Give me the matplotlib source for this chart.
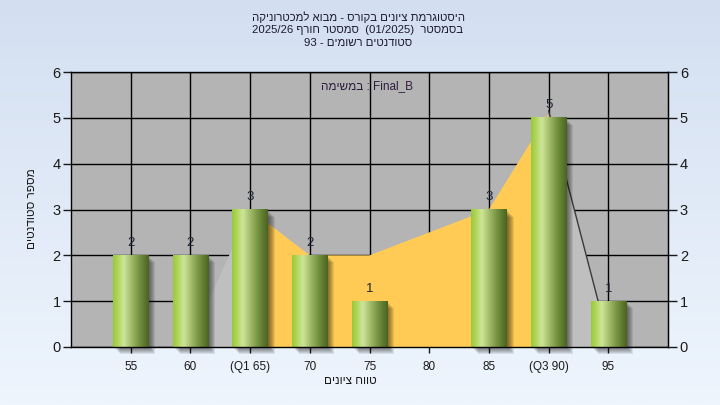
import numpy as np
import matplotlib
matplotlib.use('Agg')
import matplotlib.pyplot as plt
from matplotlib.patches import Rectangle, Polygon
from matplotlib.transforms import ScaledTranslation
from matplotlib.colors import LinearSegmentedColormap

plt.rcParams['font.family'] = ['Liberation Sans', 'DejaVu Sans']

# ---------------- data ----------------
categories = ['55', '60', '(Q1 65)', '70', '75', '80', '85', '(Q3 90)', '95']
counts = [2, 2, 3, 2, 1, 0, 3, 5, 1]
# quartile band (yellow area between Q1 and Q3)
band_idx = [2, 3, 4, 5, 6, 7]
band_vals = [3, 2, 2, 2.5, 3, 5.1]
# tails outside quartiles (light grey)
left_tail_idx = [1, 2]
left_tail_vals = [0.15, 3]
right_tail_idx = [7, 8]
right_tail_vals = [5.15, 0.15]
yticks = [0, 1, 2, 3, 4, 5, 6]

# visual-order (RTL already applied) texts
title_lines = ['הקינורטכמל אובמ - סרוקב םינויצ תמרגוטסיה',
               '2025/26 ףרוח רטסמס  (01/2025)  רטסמסב',
               '93 - םימושר םיטנדוטס']
legend_text = 'המישמב : Final_B'
xlabel = 'םינויצ חווט'
ylabel = 'םיטנדוטס רפסמ'

# ---------------- figure ----------------
W, H = 720, 405
fig = plt.figure(figsize=(W / 100, H / 100), dpi=100)

bg = fig.add_axes([0, 0, 1, 1], zorder=-10)
grad = np.linspace(0, 1, 256).reshape(-1, 1)
bg_cmap = LinearSegmentedColormap.from_list('bg', ['#d3dff1', '#eef5fd'])
bg.imshow(grad, aspect='auto', cmap=bg_cmap, extent=(0, 1, 0, 1))
bg.axis('off')

ax = fig.add_axes([71 / W, 58 / H, 597 / W, 275 / H])
ax.set_facecolor('#b4b4b4')
x = np.arange(len(categories))

# grid
ax.set_axisbelow(True)
ax.grid(True, color='black', linewidth=1, zorder=0.5)

# areas
band = Polygon(list(zip(band_idx, band_vals)) + [(band_idx[-1], 0), (band_idx[0], 0)],
               closed=True, facecolor='#ffcb55', edgecolor='none', zorder=1)
ax.add_patch(band)
lt = Polygon(list(zip(left_tail_idx, left_tail_vals)) + [(left_tail_idx[-1], 0), (left_tail_idx[0], 0)],
             closed=True, facecolor='#bfbfbf', edgecolor='none', zorder=1)
ax.add_patch(lt)
rt = Polygon(list(zip(right_tail_idx, right_tail_vals)) + [(right_tail_idx[-1], 0), (right_tail_idx[0], 0)],
             closed=True, facecolor='#bfbfbf', edgecolor='none', zorder=1)
ax.add_patch(rt)
ax.plot(right_tail_idx, right_tail_vals, color='#3a3a3a', linewidth=1, zorder=1.5)

# bars
bars = ax.bar(x, counts, width=0.59, color='none', edgecolor='none', zorder=3)
bar_cmap = LinearSegmentedColormap.from_list('bar', [
    (0.0, '#98c93a'), (0.12, '#aed455'), (0.3, '#cde59a'),
    (0.5, '#a4bd6c'), (0.75, '#718e3d'), (1.0, '#4b6320')])
hgrad = np.linspace(0, 1, 128).reshape(1, -1)
for b in bars:
    h = b.get_height()
    if h <= 0:
        continue
    x0, w = b.get_x(), b.get_width()
    # shadow
    for k in range(1, 8):
        off = ScaledTranslation(k / 100, -k / 100, fig.dpi_scale_trans)
        sh = Rectangle((x0, 0), w, h, transform=ax.transData + off,
                       facecolor='black', edgecolor='none', alpha=0.085,
                       zorder=2, clip_on=False)
        ax.add_patch(sh)
    ax.imshow(hgrad, extent=(x0, x0 + w, 0, h), aspect='auto', cmap=bar_cmap,
              zorder=3, interpolation='bilinear')
    ax.text(b.get_x() + w / 2, h + 0.27, str(int(h)), ha='center', va='center',
            fontsize=9.5, color='#1c2436', zorder=5)

ax.set_xlim(-1, 9)
ax.set_ylim(0, 6)
ax.set_xticks(x)
ax.set_xticklabels(categories)
ax.set_yticks(yticks)
ax.tick_params(axis='x', direction='out', length=4, width=1, pad=6,
               labelsize=8.5, colors='#1a1a1a')
ax.tick_params(axis='y', direction='out', length=5.5, width=1, pad=2,
               labelsize=10.5, colors='#1a1a1a')
for s in ax.spines.values():
    s.set_color('black')
    s.set_linewidth(1)
    s.set_zorder(6)

ax2 = ax.twinx()
ax2.set_ylim(0, 6)
ax2.set_yticks(yticks)
ax2.tick_params(axis='y', direction='out', length=6.5, width=1, pad=2,
                labelsize=10.5, colors='#1a1a1a')
for s in ax2.spines.values():
    s.set_visible(False)
ax2.spines['right'].set_visible(True)
ax2.spines['right'].set_color('black')

# texts
ys = [17, 30, 43]
for line, yy in zip(title_lines, ys):
    fig.text(358 / W, 1 - yy / H, line, ha='center', va='center',
             fontsize=8.2, color='#1a1a2e')
ax.text(367 / W, 1 - 86 / H, legend_text, transform=fig.transFigure,
        ha='center', va='center', fontsize=8.5, color='#2b1d3d', zorder=6)
fig.text(350 / W, 1 - 381 / H, xlabel, ha='center', va='center',
         fontsize=8.5, color='#1a1a1a')
fig.text(32 / W, 1 - 209 / H, ylabel, ha='center', va='center',
         rotation=90, fontsize=8.5, color='#1a1a1a')

fig.savefig('out.png', dpi=100)
